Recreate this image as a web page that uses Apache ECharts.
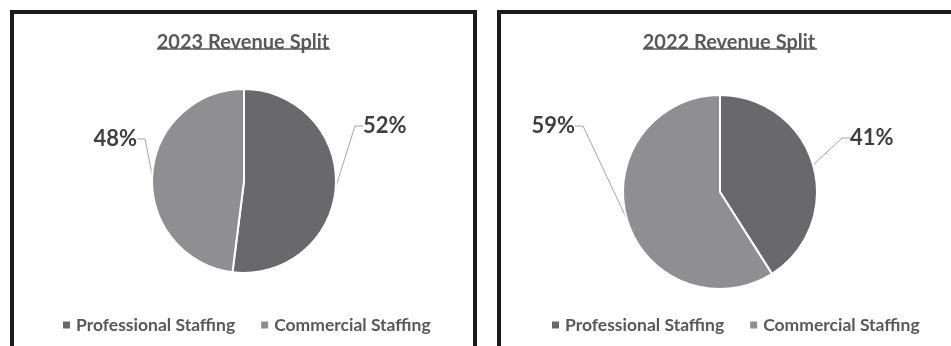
<!DOCTYPE html>
<html>
<head>
<meta charset="utf-8">
<script src="https://cdn.jsdelivr.net/npm/echarts@6/dist/echarts.min.js"></script>
<style>
html,body{margin:0;padding:0;background:#fff;}
#c{width:951px;height:346px;}
</style>
</head>
<body>
<div id="c"></div>
<script>
// ---- data ----
const categories = ['Professional Staffing', 'Commercial Staffing'];
const chartTitles = ['2023 Revenue Split', '2022 Revenue Split'];
const values2023 = [52, 48];
const values2022 = [41, 59];

// ---- style / layout ----
const FONT = 'Lato';
const colors = ['#69696b', '#8f8f91'];
const labelPos = [
  [{x: 363, y: 126, align: 'left'}, {x: 137, y: 139, align: 'right'}],
  [{x: 850, y: 138, align: 'left'}, {x: 575, y: 126, align: 'right'}]
];

function pieSeries(idx, values, center, radius) {
  return {
    type: 'pie',
    center: center,
    radius: radius,
    startAngle: 90,
    clockwise: true,
    avoidLabelOverlap: false,
    silent: true,
    itemStyle: {borderColor: '#ffffff', borderWidth: 2},
    label: {
      show: true,
      position: 'outside',
      formatter: '{d}%',
      fontFamily: FONT,
      fontWeight: 'bold',
      fontSize: 22,
      color: '#404040'
    },
    labelLine: {show: true, length: 15, length2: 8, lineStyle: {color: '#a6a6a6', width: 1}},
    labelLayout: function (p) {
      const pos = labelPos[idx][p.dataIndex];
      return {x: pos.x, y: pos.y, align: pos.align, verticalAlign: 'middle'};
    },
    data: categories.map((n, i) => ({name: n, value: values[i]}))
  };
}

const chart = echarts.init(document.getElementById('c'), null, {renderer: 'canvas'});
chart.setOption({
  backgroundColor: '#ffffff',
  animation: false,
  color: colors,
  title: [
    {text: chartTitles[0], left: 238, top: 28, textAlign: 'center',
     textStyle: {fontFamily: FONT, fontWeight: 'bold', fontSize: 20, color: '#595959'}},
    {text: chartTitles[1], left: 724, top: 28, textAlign: 'center',
     textStyle: {fontFamily: FONT, fontWeight: 'bold', fontSize: 20, color: '#595959'}}
  ],
  legend: [
    {left: 56, top: 311, itemWidth: 9, itemHeight: 9, itemGap: 24, icon: 'rect',
     data: categories, selectedMode: false,
     textStyle: {fontFamily: FONT, fontWeight: 'bold', fontSize: 17.5, color: '#595959'}},
    {left: 545, top: 311, itemWidth: 9, itemHeight: 9, itemGap: 24, icon: 'rect',
     data: categories, selectedMode: false,
     textStyle: {fontFamily: FONT, fontWeight: 'bold', fontSize: 17.5, color: '#595959'}}
  ],
  series: [
    pieSeries(0, values2023, [244, 181], 92),
    pieSeries(1, values2022, [720, 192], 97)
  ],
  graphic: [
    {type: 'rect', shape: {x: 12, y: 12, width: 463, height: 360},
     style: {fill: 'none', stroke: '#1a1a1a', lineWidth: 4}},
    {type: 'rect', shape: {x: 499, y: 12, width: 470, height: 360},
     style: {fill: 'none', stroke: '#1a1a1a', lineWidth: 4}},
    {type: 'line', shape: {x1: 157, y1: 49, x2: 330, y2: 49},
     style: {stroke: '#595959', lineWidth: 1.5}},
    {type: 'line', shape: {x1: 643, y1: 49, x2: 817, y2: 49},
     style: {stroke: '#595959', lineWidth: 1.5}}
  ]
});
</script>
</body>
</html>
